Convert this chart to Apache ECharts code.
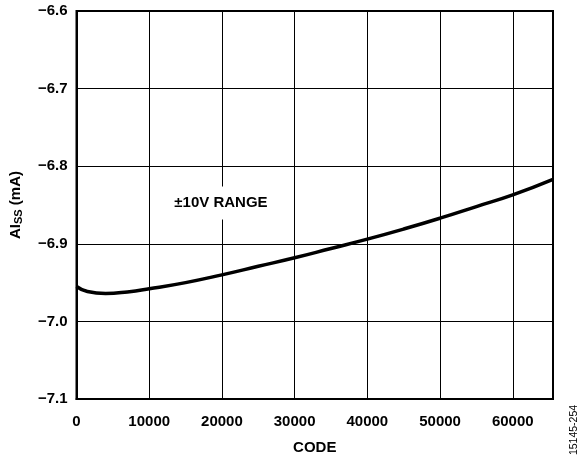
<!DOCTYPE html>
<html>
<head>
<meta charset="utf-8">
<script src="https://cdn.jsdelivr.net/npm/echarts@6/dist/echarts.min.js"></script>
<style>
  html, body { margin: 0; padding: 0; background: #fff; }
  #chart { width: 579px; height: 460px; }
</style>
</head>
<body>
<div id="chart"></div>
<script>
// supply current vs code
var codes = [0, 1500, 4000, 7000, 10000, 15000, 20000, 25000, 30000,
  35000, 40000, 45000, 50000, 55000, 60000, 65535];
var aiss = [-6.955, -6.9615, -6.964, -6.962, -6.958, -6.950, -6.940,
  -6.929, -6.918, -6.906, -6.894, -6.881, -6.867, -6.852, -6.837, -6.817];

var xTicks = [0, 10000, 20000, 30000, 40000, 50000, 60000];
var yTicks = [-7.1, -7.0, -6.9, -6.8, -6.7, -6.6];

var points = [];
for (var i = 0; i < codes.length; i++) points.push([codes[i], aiss[i]]);

var font = 'Liberation Sans, Arial, sans-serif';
var myChart = echarts.init(document.getElementById('chart'));

var option = {
  animation: false,
  grid: {
    left: 76, right: 26, top: 11, bottom: 59,
    show: true,
    borderColor: '#000',
    borderWidth: 2
  },
  xAxis: {
    type: 'value',
    min: 0,
    max: 65535,
    interval: 10000,
    name: 'CODE',
    nameLocation: 'middle',
    nameGap: 41,
    nameTextStyle: { color: '#000', fontFamily: font, fontWeight: 'bold', fontSize: 15 },
    axisLine: { show: true, lineStyle: { color: '#000', width: 2 } },
    axisTick: { show: false },
    axisLabel: {
      color: '#000', fontFamily: font, fontWeight: 'bold', fontSize: 15, margin: 15,
      showMaxLabel: false,
      formatter: function (v) { return xTicks.indexOf(v) >= 0 ? String(v) : ''; }
    },
    splitLine: { show: true, lineStyle: { color: '#000', width: 1 } }
  },
  yAxis: {
    type: 'value',
    min: -7.1,
    max: -6.6,
    interval: 0.1,
    name: '{a|AI}{s|SS}{a| (mA)}',
    nameLocation: 'middle',
    nameGap: 52,
    nameRotate: 90,
    nameTextStyle: {
      rich: {
        a: { color: '#000', fontFamily: font, fontWeight: 'bold', fontSize: 15 },
        s: { color: '#000', fontFamily: font, fontWeight: 'bold', fontSize: 11, verticalAlign: 'bottom', padding: [7, 0, 0, 0] }
      }
    },
    axisLine: { show: true, lineStyle: { color: '#000', width: 2 } },
    axisTick: { show: false },
    axisLabel: {
      color: '#000', fontFamily: font, fontWeight: 'bold', fontSize: 15, margin: 9,
      formatter: function (v) { return v.toFixed(1).replace('-', '\u2212'); }
    },
    splitLine: { show: true, lineStyle: { color: '#000', width: 1 } }
  },
  series: [{
    type: 'line',
    data: points,
    smooth: 0.5,
    showSymbol: false,
    lineStyle: { color: '#000', width: 3.5 },
    z: 3
  }],
  graphic: [
    {
      type: 'text',
      x: 221, y: 203,
      z: 10,
      style: {
        text: '\u00b110V RANGE',
        fill: '#000',
        font: 'bold 15px ' + font,
        align: 'center',
        verticalAlign: 'middle',
        backgroundColor: '#fff',
        padding: [9, 4, 9, 4]
      }
    },
    {
      type: 'text',
      x: 574, y: 430,
      rotation: Math.PI / 2,
      style: {
        text: '15145-254',
        fill: '#000',
        font: '10.5px ' + font,
        align: 'center',
        verticalAlign: 'middle'
      }
    }
  ]
};
myChart.setOption(option);
</script>
</body>
</html>
